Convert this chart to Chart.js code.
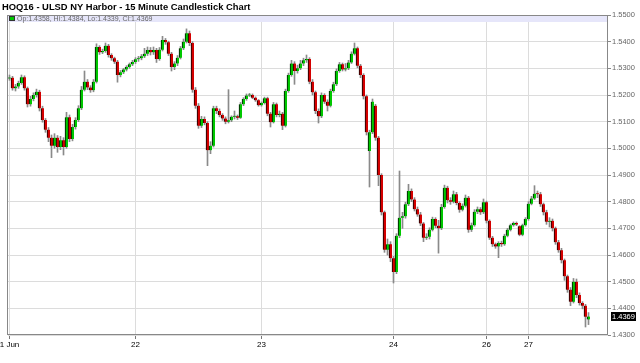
<!DOCTYPE html>
<html>
<head>
<meta charset="utf-8">
<script src="https://cdn.jsdelivr.net/npm/chart.js@4.4.0/dist/chart.umd.min.js"></script>
<style>
  html, body { margin: 0; padding: 0; background: #fff; }
  #wrap { width: 640px; height: 363px; }
</style>
</head>
<body>
<div id="wrap"><canvas id="candles" width="640" height="363"></canvas></div>
<script>
const FONT = "'Liberation Sans', Arial, sans-serif";
const slotCount = 200;
const dayTicks = ["1 Jun", "22", "23", "24", "26", "27"];
const dayTickIndex = [0, 42, 84, 128, 159, 173];
const upColor = "#00c800";
const downColor = "#d40000";

const opens = [
  1.5262,1.5265,1.5225,1.5232,1.5245,1.5267,1.5225,1.5165,1.5185,1.5200,
  1.5212,1.5150,1.5106,1.5070,1.5040,1.5010,1.5040,1.5005,1.5030,1.5005,
  1.5117,1.5035,1.5080,1.5106,1.5150,1.5220,1.5250,1.5228,1.5218,1.5250,
  1.5380,1.5360,1.5365,1.5385,1.5350,1.5338,1.5325,1.5275,1.5285,1.5296,
  1.5305,1.5315,1.5324,1.5334,1.5338,1.5345,1.5355,1.5369,1.5360,1.5369,
  1.5335,1.5370,1.5406,1.5398,1.5355,1.5305,1.5318,1.5340,1.5375,1.5400,
  1.5432,1.5395,1.5220,1.5160,1.5085,1.5110,1.5095,1.4993,1.5010,1.5150,
  1.5140,1.5125,1.5112,1.5100,1.5105,1.5118,1.5120,1.5115,1.5165,1.5185,
  1.5198,1.5200,1.5190,1.5180,1.5162,1.5170,1.5188,1.5130,1.5098,1.5165,
  1.5125,1.5130,1.5085,1.5215,1.5275,1.5318,1.5290,1.5300,1.5318,1.5330,
  1.5335,1.5250,1.5210,1.5140,1.5120,1.5200,1.5175,1.5160,1.5215,1.5240,
  1.5290,1.5315,1.5296,1.5300,1.5322,1.5355,1.5375,1.5310,1.5275,1.5195,
  1.4990,1.5060,1.5160,1.5040,1.4900,1.4760,1.4620,1.4640,1.4588,1.4536,
  1.4672,1.4740,1.4745,1.4790,1.4840,1.4808,1.4772,1.4752,1.4718,1.4665,
  1.4668,1.4695,1.4735,1.4710,1.4700,1.4780,1.4852,1.4805,1.4800,1.4828,
  1.4795,1.4770,1.4785,1.4815,1.4695,1.4712,1.4762,1.4772,1.4760,1.4798,
  1.4728,1.4665,1.4640,1.4632,1.4645,1.4640,1.4672,1.4695,1.4712,1.4720,
  1.4708,1.4676,1.4712,1.4735,1.4792,1.4812,1.4830,1.4828,1.4790,1.4760,
  1.4725,1.4728,1.4700,1.4648,1.4618,1.4580,1.4520,1.4470,1.4425,1.4500,
  1.4450,1.4420,1.4410,1.4358
];

const highs = [
  1.5275,1.5270,1.5240,1.5252,1.5275,1.5272,1.5230,1.5195,1.5208,1.5222,
  1.5218,1.5158,1.5112,1.5078,1.5050,1.5055,1.5048,1.5045,1.5040,1.5135,
  1.5125,1.5090,1.5115,1.5160,1.5232,1.5290,1.5258,1.5235,1.5258,1.5392,
  1.5385,1.5372,1.5395,1.5390,1.5355,1.5342,1.5330,1.5292,1.5300,1.5310,
  1.5320,1.5330,1.5340,1.5345,1.5352,1.5375,1.5380,1.5378,1.5380,1.5375,
  1.5378,1.5420,1.5412,1.5402,1.5360,1.5325,1.5348,1.5382,1.5410,1.5448,
  1.5440,1.5400,1.5228,1.5168,1.5120,1.5118,1.5100,1.5025,1.5158,1.5158,
  1.5148,1.5130,1.5118,1.5220,1.5122,1.5140,1.5125,1.5172,1.5190,1.5204,
  1.5206,1.5204,1.5193,1.5183,1.5174,1.5192,1.5192,1.5135,1.5172,1.5170,
  1.5140,1.5135,1.5222,1.5282,1.5330,1.5325,1.5312,1.5330,1.5338,1.5350,
  1.5340,1.5258,1.5215,1.5148,1.5208,1.5205,1.5182,1.5222,1.5248,1.5298,
  1.5322,1.5320,1.5318,1.5330,1.5362,1.5395,1.5380,1.5315,1.5280,1.5200,
  1.5068,1.5185,1.5165,1.5045,1.4905,1.4765,1.4660,1.4650,1.4595,1.4680,
  1.4915,1.4760,1.4798,1.4865,1.4848,1.4815,1.4780,1.4760,1.4722,1.4680,
  1.4702,1.4742,1.4740,1.4730,1.4790,1.4862,1.4858,1.4815,1.4840,1.4835,
  1.4800,1.4792,1.4825,1.4820,1.4720,1.4770,1.4780,1.4778,1.4810,1.4802,
  1.4732,1.4670,1.4645,1.4650,1.4652,1.4678,1.4700,1.4716,1.4724,1.4724,
  1.4710,1.4716,1.4740,1.4800,1.4820,1.4860,1.4840,1.4835,1.4795,1.4768,
  1.4740,1.4735,1.4705,1.4655,1.4625,1.4585,1.4525,1.4478,1.4512,1.4510,
  1.4458,1.4425,1.4415,1.4384
];

const lows = [
  1.5255,1.5218,1.5215,1.5225,1.5240,1.5218,1.5155,1.5158,1.5178,1.5192,
  1.5140,1.5098,1.5060,1.5025,1.4965,1.5000,1.4985,1.4995,1.4975,1.5000,
  1.5025,1.5028,1.5072,1.5100,1.5145,1.5215,1.5220,1.5210,1.5212,1.5245,
  1.5352,1.5355,1.5360,1.5342,1.5330,1.5318,1.5248,1.5268,1.5280,1.5290,
  1.5300,1.5310,1.5318,1.5326,1.5332,1.5340,1.5348,1.5350,1.5352,1.5322,
  1.5330,1.5365,1.5390,1.5348,1.5290,1.5295,1.5310,1.5335,1.5370,1.5395,
  1.5385,1.5210,1.5150,1.5075,1.5078,1.5088,1.4935,1.4980,1.5005,1.5130,
  1.5118,1.5105,1.5092,1.5095,1.5100,1.5110,1.5108,1.5112,1.5160,1.5180,
  1.5194,1.5186,1.5176,1.5158,1.5158,1.5166,1.5122,1.5080,1.5095,1.5118,
  1.5118,1.5070,1.5080,1.5210,1.5270,1.5240,1.5282,1.5295,1.5310,1.5322,
  1.5242,1.5200,1.5130,1.5095,1.5115,1.5168,1.5140,1.5155,1.5210,1.5235,
  1.5285,1.5290,1.5290,1.5295,1.5318,1.5350,1.5302,1.5265,1.5185,1.5050,
  1.4855,1.5055,1.5030,1.4860,1.4750,1.4610,1.4600,1.4575,1.4495,1.4530,
  1.4665,1.4700,1.4738,1.4785,1.4800,1.4765,1.4745,1.4710,1.4650,1.4658,
  1.4660,1.4690,1.4702,1.4607,1.4695,1.4775,1.4795,1.4790,1.4795,1.4788,
  1.4760,1.4765,1.4780,1.4685,1.4688,1.4708,1.4755,1.4752,1.4755,1.4720,
  1.4658,1.4632,1.4625,1.4590,1.4632,1.4636,1.4668,1.4690,1.4708,1.4710,
  1.4672,1.4672,1.4708,1.4730,1.4788,1.4808,1.4815,1.4782,1.4750,1.4715,
  1.4705,1.4690,1.4640,1.4610,1.4570,1.4505,1.4460,1.4410,1.4420,1.4440,
  1.4412,1.4398,1.4330,1.4339
];

const closes = [
  1.5265,1.5225,1.5232,1.5245,1.5267,1.5225,1.5165,1.5185,1.5200,1.5212,
  1.5150,1.5106,1.5070,1.5040,1.5010,1.5040,1.5005,1.5030,1.5005,1.5117,
  1.5035,1.5080,1.5106,1.5150,1.5220,1.5250,1.5228,1.5218,1.5250,1.5380,
  1.5360,1.5365,1.5385,1.5350,1.5338,1.5325,1.5275,1.5285,1.5296,1.5305,
  1.5315,1.5324,1.5334,1.5338,1.5345,1.5355,1.5369,1.5360,1.5369,1.5335,
  1.5370,1.5406,1.5398,1.5355,1.5305,1.5318,1.5340,1.5375,1.5400,1.5432,
  1.5395,1.5220,1.5160,1.5085,1.5110,1.5095,1.4993,1.5010,1.5150,1.5140,
  1.5125,1.5112,1.5100,1.5105,1.5118,1.5120,1.5115,1.5165,1.5185,1.5198,
  1.5200,1.5190,1.5180,1.5162,1.5170,1.5188,1.5130,1.5098,1.5165,1.5125,
  1.5130,1.5085,1.5215,1.5275,1.5318,1.5290,1.5300,1.5318,1.5330,1.5335,
  1.5250,1.5210,1.5140,1.5120,1.5200,1.5175,1.5160,1.5215,1.5240,1.5290,
  1.5315,1.5296,1.5300,1.5322,1.5355,1.5375,1.5310,1.5275,1.5195,1.5060,
  1.5060,1.5175,1.5040,1.4900,1.4760,1.4620,1.4640,1.4588,1.4536,1.4672,
  1.4740,1.4745,1.4790,1.4840,1.4808,1.4772,1.4752,1.4718,1.4665,1.4668,
  1.4695,1.4735,1.4710,1.4700,1.4780,1.4852,1.4805,1.4800,1.4828,1.4795,
  1.4770,1.4785,1.4815,1.4695,1.4712,1.4762,1.4772,1.4760,1.4798,1.4728,
  1.4665,1.4640,1.4632,1.4645,1.4640,1.4672,1.4695,1.4712,1.4720,1.4714,
  1.4676,1.4712,1.4735,1.4792,1.4812,1.4830,1.4828,1.4790,1.4760,1.4725,
  1.4728,1.4700,1.4648,1.4618,1.4580,1.4520,1.4470,1.4425,1.4500,1.4450,
  1.4420,1.4410,1.4368,1.4369
];

// one slot per candle, day names only where the session changes
const labels = new Array(slotCount).fill("");
dayTickIndex.forEach((idx, k) => { labels[idx] = dayTicks[k]; });

const last = closes.length - 1;
const infoText = `Op:${opens[last].toFixed(4)}, Hi:${highs[last].toFixed(4)}, Lo:${lows[last].toFixed(4)}, Cl:${closes[last].toFixed(4)}`;

const candleColor = (c) => closes[c.dataIndex] >= opens[c.dataIndex] ? upColor : downColor;
const dayOnly = (on, off) => (c) => (c.tick && c.tick.label ? on : off);

const frameAndInfo = {
    id: "frameAndInfo",
    beforeDatasetsDraw(chart) {
        const { ctx, chartArea: a } = chart;
        ctx.save();
        ctx.fillStyle = "#e6e6fa";
        ctx.fillRect(a.left, a.top, a.right - a.left, 7);
        ctx.fillStyle = upColor;
        ctx.fillRect(a.left + 2, a.top + 1.5, 4, 4);
        ctx.strokeStyle = "#333";
        ctx.lineWidth = 1;
        ctx.strokeRect(a.left + 1.5, a.top + 1.5, 5, 4);
        ctx.fillStyle = "#666";
        ctx.font = "7px " + FONT;
        ctx.textBaseline = "middle";
        ctx.fillText(infoText, a.left + 9, a.top + 4);
        ctx.restore();
    },
    afterDraw(chart) {
        const { ctx, chartArea: a, scales } = chart;
        ctx.save();
        ctx.strokeStyle = "#888";
        ctx.lineWidth = 1;
        ctx.strokeRect(Math.round(a.left) - 0.5, Math.round(a.top) + 0.5,
            Math.round(a.right - a.left), Math.round(a.bottom - a.top) - 1);

        // last price tag on the right axis
        const py = scales.y.getPixelForValue(closes[last]);
        ctx.fillStyle = "#000";
        ctx.fillRect(a.right + 3, Math.round(py) - 5, 25, 9);
        ctx.fillStyle = "#fff";
        ctx.font = "7.5px " + FONT;
        ctx.textBaseline = "middle";
        ctx.fillText(closes[last].toFixed(4), a.right + 4, Math.round(py) - 0.5);
        ctx.restore();
    }
};

new Chart(document.getElementById("candles").getContext("2d"), {
    type: "bar",
    data: {
        labels: labels,
        datasets: [
            {
                label: "body",
                data: opens.map((o, i) => [o, closes[i]]),
                backgroundColor: candleColor,
                borderColor: "#000",
                borderWidth: { left: 1, right: 0, top: 0, bottom: 0 },
                borderSkipped: false,
                barThickness: 3,
                minBarLength: 1,
                grouped: false
            },
            {
                label: "wick",
                data: lows.map((l, i) => [l, highs[i]]),
                backgroundColor: "#8a8a8a",
                borderWidth: 0,
                barThickness: 1,
                grouped: false
            }
        ]
    },
    options: {
        responsive: false,
        animation: false,
        layout: { padding: { left: 2, right: 0, top: 0, bottom: 0 } },
        plugins: {
            legend: { display: false },
            tooltip: { enabled: false },
            title: {
                display: true,
                text: "HOQ16 - ULSD NY Harbor - 15 Minute Candlestick Chart",
                align: "start",
                color: "#000",
                font: { family: FONT, size: 9.4, weight: "bold", lineHeight: "13px" },
                padding: { top: 1, bottom: 1 }
            }
        },
        scales: {
            x: {
                type: "category",
                offset: true,
                grid: {
                    offset: false,
                    color: dayOnly("#dcdcdc", "rgba(0,0,0,0)"),
                    tickColor: dayOnly("#777", "rgba(0,0,0,0)"),
                    tickLength: 4
                },
                border: { display: false },
                ticks: {
                    autoSkip: false,
                    maxRotation: 0,
                    minRotation: 0,
                    padding: 1,
                    color: "#000",
                    font: { family: FONT, size: 8 }
                },
                afterFit(s) { s.height = 28; s.paddingLeft = 0; s.paddingRight = 0; }
            },
            y: {
                position: "right",
                min: 1.43,
                max: 1.55,
                ticks: {
                    stepSize: 0.01,
                    maxTicksLimit: 20,
                    padding: 1,
                    color: "#666",
                    font: { family: FONT, size: 7.5 },
                    callback: (v) => v.toFixed(4)
                },
                grid: { color: "#dcdcdc", tickColor: "#888", tickLength: 3 },
                border: { display: false },
                afterFit(s) { s.width = 32; s.paddingTop = 0; s.paddingBottom = 0; }
            },
            yl: {
                position: "left",
                grid: { display: false, drawTicks: false },
                border: { display: false },
                ticks: { display: false },
                afterFit(s) { s.width = 6; s.paddingTop = 0; s.paddingBottom = 0; }
            }
        }
    },
    plugins: [frameAndInfo]
});
</script>
</body>
</html>
